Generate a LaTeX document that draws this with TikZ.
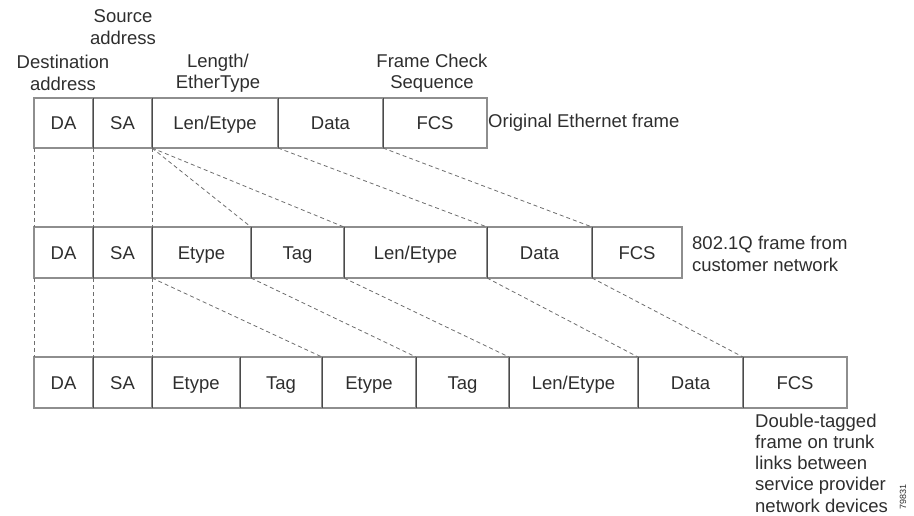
\documentclass[tikz,border=0pt]{standalone}
\usepackage{fontspec}
\setmainfont{Liberation Sans}
\definecolor{boxc}{HTML}{8E8E8E}
\definecolor{divc}{HTML}{4A4A4A}
\definecolor{dashc}{HTML}{6E6E6E}
\definecolor{txtc}{HTML}{2E2E2E}
\newcommand\fcell[6]{%
  \node[cell, minimum width={(#3-#2)*1pt}, minimum height={(#5-#4)*1pt}]
    (#1) at ({(#2+#3)/2},{(#4+#5)/2}) {#6};}
\begin{document}
\begin{tikzpicture}[x=1pt,y=-1pt,
  every node/.style={text=txtc, font=\fontsize{18.5}{21.3}\selectfont},
  cell/.style={draw=boxc, line width=1.1pt, inner sep=0pt, outer sep=0pt, rectangle,
    text height=13.2pt, text depth=0pt},
  divider/.style={draw=divc, line width=1pt},
  dashline/.style={draw=dashc, line width=0.8pt, dash pattern=on 4pt off 3pt},
  lbl/.style={inner sep=0pt, align=center},
  sidelbl/.style={inner sep=0pt, align=left, anchor=west}]
\useasboundingbox (0,0) rectangle (914,516);
% row 1
\fcell{ada}{34}{93}{98}{148}{DA}
\fcell{asa}{93}{152}{98}{148}{SA}
\fcell{alen}{152}{278}{98}{148}{Len/Etype}
\fcell{adata}{278}{383}{98}{148}{Data}
\fcell{afcs}{383}{487}{98}{148}{FCS}
% row 2
\fcell{bda}{34}{93}{227}{278}{DA}
\fcell{bsa}{93}{152}{227}{278}{SA}
\fcell{bet}{152}{251}{227}{278}{Etype}
\fcell{btag}{251}{344}{227}{278}{Tag}
\fcell{blen}{344}{487}{227}{278}{Len/Etype}
\fcell{bdata}{487}{592}{227}{278}{Data}
\fcell{bfcs}{592}{682}{227}{278}{FCS}
% row 3
\fcell{cda}{34}{93}{357}{408}{DA}
\fcell{csa}{93}{152}{357}{408}{SA}
\fcell{cet}{152}{240}{357}{408}{Etype}
\fcell{ctag}{240}{322}{357}{408}{Tag}
\fcell{cetb}{322}{416}{357}{408}{Etype}
\fcell{ctagb}{416}{509}{357}{408}{Tag}
\fcell{clen}{509}{638}{357}{408}{Len/Etype}
\fcell{cdata}{638}{743}{357}{408}{Data}
\fcell{cfcs}{743}{847}{357}{408}{FCS}
% darker dividers
\foreach \n in {ada,asa,alen,adata,bda,bsa,bet,btag,blen,bdata,cda,csa,cet,ctag,cetb,ctagb,clen,cdata}
  \draw[divider] (\n.north east) -- (\n.south east);
% dashed connectors row 1 -> row 2
\draw[dashline] (ada.south west) -- (bda.north west);
\draw[dashline] (asa.south west) -- (bsa.north west);
\draw[dashline] (alen.south west) -- (bet.north west);
\draw[dashline] (alen.south west) -- (btag.north west);
\draw[dashline] (alen.south west) -- (blen.north west);
\draw[dashline] (adata.south west) -- (bdata.north west);
\draw[dashline] (afcs.south west) -- (bfcs.north west);
% dashed connectors row 2 -> row 3
\draw[dashline] (bda.south west) -- (cda.north west);
\draw[dashline] (bsa.south west) -- (csa.north west);
\draw[dashline] (bet.south west) -- (cet.north west);
\draw[dashline] (bet.south west) -- (cetb.north west);
\draw[dashline] (btag.south west) -- (ctagb.north west);
\draw[dashline] (blen.south west) -- (clen.north west);
\draw[dashline] (bdata.south west) -- (cdata.north west);
\draw[dashline] (bfcs.south west) -- (cfcs.north west);
% header labels
\node[lbl] (lsrc) at (123,27) {Source\\address};
\node[lbl] (ldst) at (63,73) {Destination\\address};
\node[lbl] (llen) at (218,73) {Length/\\EtherType};
\node[lbl] (lfcs) at (432,73) {Frame Check\\Sequence};
% side labels
\node[sidelbl] (lorig) at (488,123) {Original Ethernet frame};
\node[sidelbl] (lq) at (692,254) {802.1Q frame from\\customer network};
\node[sidelbl] (ldt) at (755,463) {Double-tagged\\frame on trunk\\links between\\service provider\\network devices};
\node[inner sep=0pt, rotate=90, font=\fontsize{9}{10}\selectfont] (lnum) at (903,497) {79831};
\end{tikzpicture}
\end{document}
